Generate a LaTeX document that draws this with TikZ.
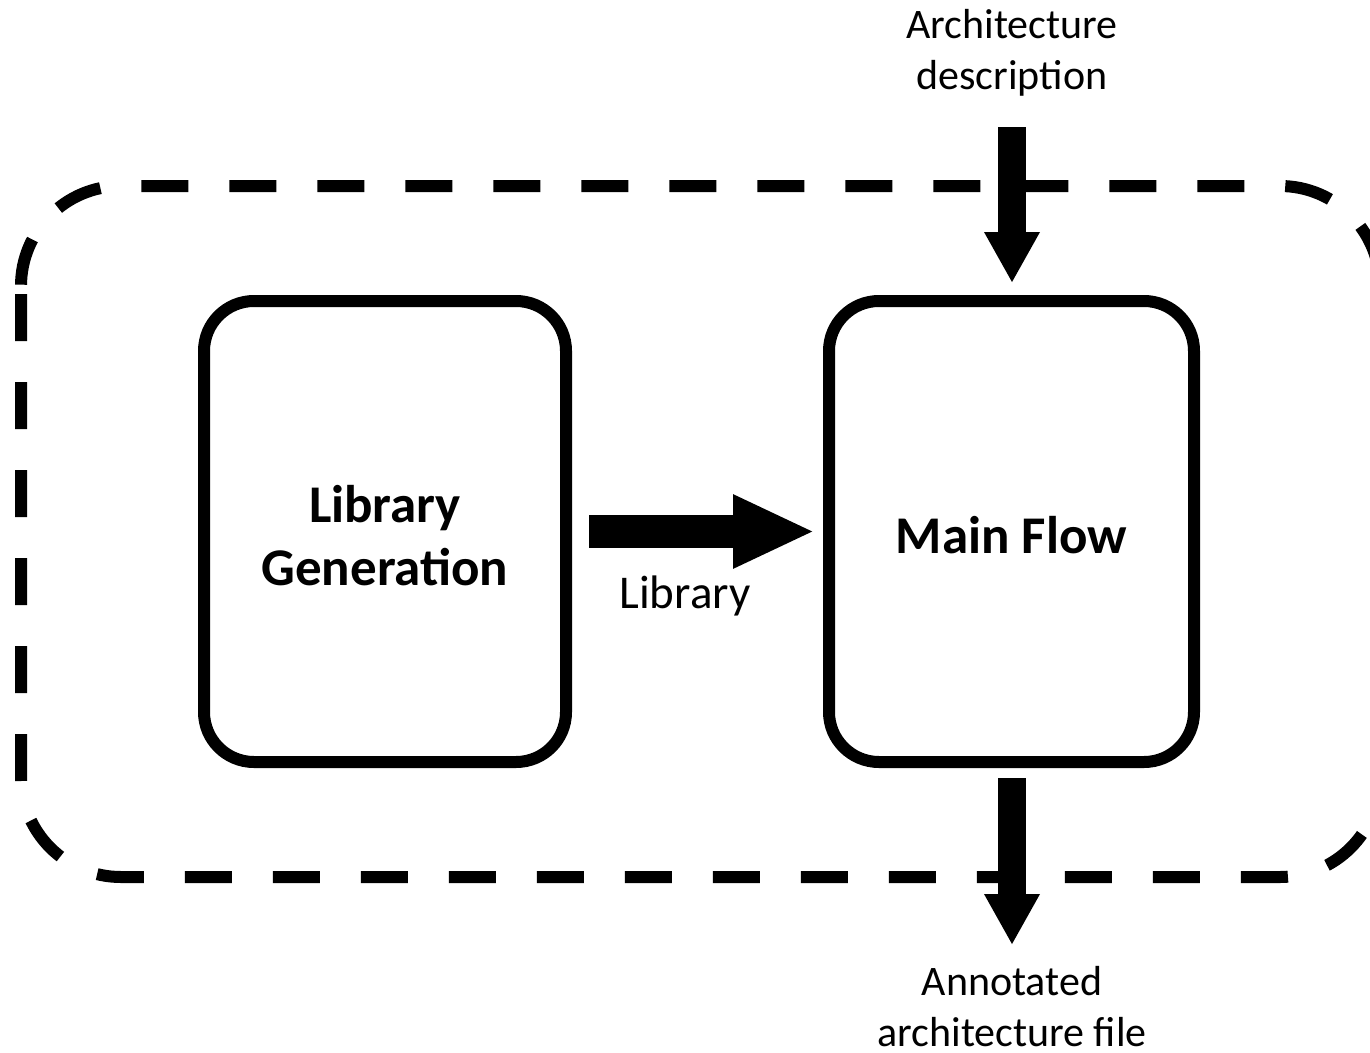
\documentclass[tikz,border=0pt]{standalone}
\usepackage{fontspec}
\setmainfont{Carlito}
\usetikzlibrary{arrows.meta}
\begin{document}
\begin{tikzpicture}[x=1pt,y=-1pt,
  box/.style={draw, line width=12pt, rounded corners=50pt, minimum height=461pt, inner sep=0pt},
  boxtext/.style={font=\fontsize{53}{63}\selectfont\bfseries, align=center, inner sep=0pt, yshift=-4pt},
  lbl/.style={font=\fontsize{42}{51}\selectfont, align=center, inner sep=0pt},
  fat/.style={line width=28pt, -{Triangle[length=51pt,width=52pt]}},
  fatlib/.style={line width=33pt, -{Triangle[length=82pt,width=68pt]}},
  dashbox/.style={line width=12pt, dash pattern=on 47pt off 41pt, dash phase=-8pt, rounded corners=100pt}
]
\useasboundingbox (0,0) rectangle (1370,1052);
\draw[dashbox] (21,186) rectangle (1380,877);
\node[box, minimum width=362pt, label={[boxtext, name=lgtext]center:Library\\Generation}] (lg) at (385,531.5) {};
\node[box, minimum width=365pt, label={[boxtext, name=mftext]center:Main Flow}] (mf) at (1011.5,531.5) {};
\node[lbl, anchor=north] (archdesc) at (1012,9) {Architecture\\description};
\node[lbl, anchor=north] (annot) at (1012,966) {Annotated\\architecture file};
\node[lbl, anchor=base, font=\fontsize{47}{56}\selectfont] (liblbl) at (685,608) {Library};
\coordinate (ain) at (1012,127);
\draw[fat, shorten >=12pt] (ain) -- (ain |- mf.north);
\coordinate (aout) at (1012,945);
\draw[fat, shorten <=10pt] (mf.south -| aout) -- (aout);
\draw[fatlib, shorten <=17pt, shorten >=8pt] (lg.east) -- (mf.west);
\end{tikzpicture}
\end{document}
